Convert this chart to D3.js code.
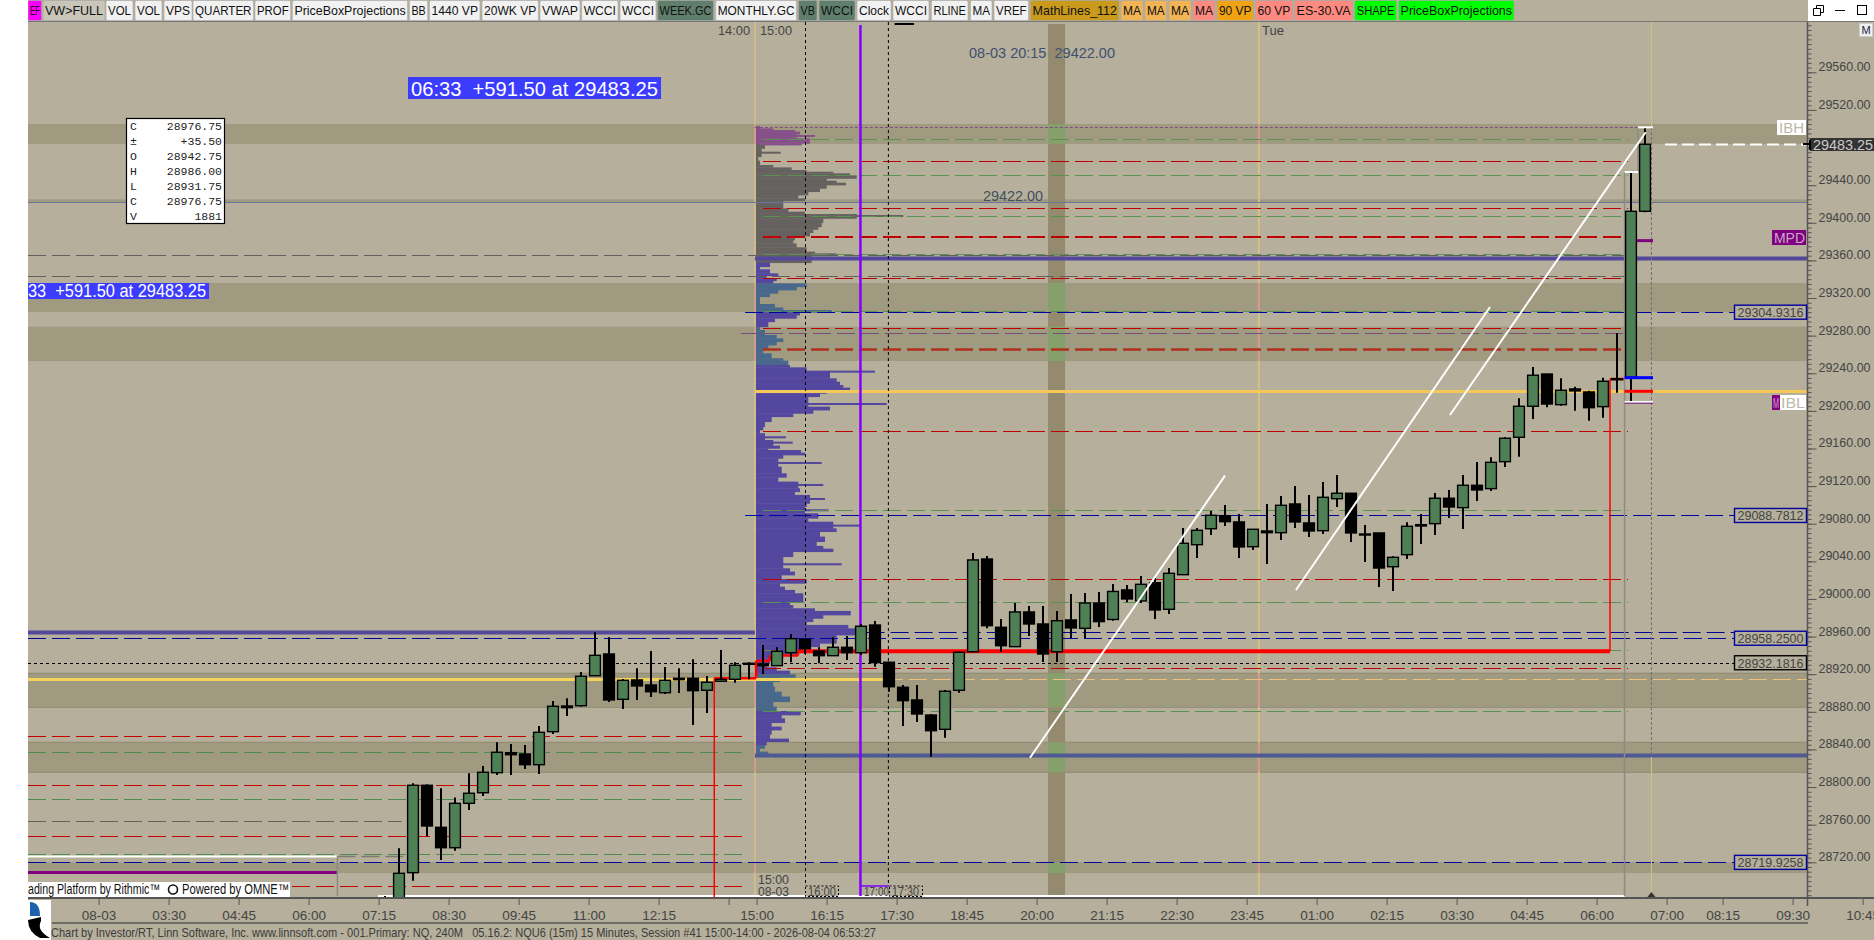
<!DOCTYPE html>
<html><head><meta charset="utf-8">
<style>html,body{margin:0;padding:0;background:#b5af9b;overflow:hidden}svg{display:block;font-family:"Liberation Sans",sans-serif}svg text{white-space:pre}</style>
<script src="https://cdnjs.cloudflare.com/ajax/libs/d3/7.8.5/d3.min.js"></script>
</head><body><svg id="c" width="1874" height="940"></svg>
<script>
// ---------- data ----------
const barOpen=[28678,28675,28709,28801.9,28757.2,28735.5,28782.7,28794,28815.3,28836.6,28835.2,28823.8,28858.9,28886.2,28886.5,28918.4,28941.5,28893.3,28913.9,28908.5,28900.3,28915.7,28915.7,28902.9,28912.5,28914.6,28931.6,
28930.9,28929.1,28942.9,28957.1,28944.7,28939.7,28948.6,28942.9,28972.3,28932.7,28906.1,28892.6,28876.6,28861.4,28902.9,28943.9,29042.5,28969.9,28949.3,28986.2,28973.4,28943.9,28977.7,28968.8,28995.7,28978.2,29009.6,28997.9,29017.3,28989,29025.8,29057.7,29074.7,29088.6,29081.9,29055.6,29072.3,29070.5,29101,29080.8,29072.6,29106.6,29112.4,29069.1,29070.2,29034.3,29047.1,29079,29080.1,29107.1,29097.1,29120.9,29117.3,29146,29171.9,29204.9,29239.2,29206.6,29223.3,29220.1,29204.5,29234.2,29235.7,29412.2];
const barHigh=[28684.2,28735,28804,28803,28798.7,28789,28814.6,28822.4,28847.6,28845.8,28844.7,28864.9,28891.5,28894.4,28922.4,28964.9,28959.3,28914.9,28926.3,28944.7,28927.7,28926.3,28935.9,28918.1,28945.8,28932.7,28932.7,
28951.1,28948.6,28962.8,28957.4,28948.6,28959.3,28960.6,28973.1,28976.6,28933.3,28908.5,28908.5,28877.7,28903.2,28943.9,29048.9,29045.7,28978.7,28995.7,28992.5,28992.5,28987.2,29005.3,29006.4,29007.4,29015.9,29014.9,29024.4,29022.3,29032.9,29075.5,29075.5,29093.6,29099.9,29090.4,29074.4,29101,29109.5,29120.1,29110.6,29124.4,29131.8,29112.7,29078.7,29070.2,29045.4,29081.5,29090.4,29112.7,29115.9,29131.8,29145.7,29150.6,29171.9,29213.4,29246.7,29239.2,29234.6,29225.7,29221.5,29235.3,29282.5,29454,29501.5];
const barLow=[28670,28670,28700.4,28748,28722.5,28732.3,28775.6,28790.5,28812.8,28812.8,28819.2,28813.9,28856.4,28875.6,28885.5,28918,28890.5,28883,28892.6,28895.8,28899,28900,28866,28878.8,28912,28911,28914.6,
28920.2,28929,28932.7,28941.5,28931.6,28939.7,28935.1,28940.4,28928,28901.4,28864.9,28869.2,28832.3,28852.5,28900.3,28943.3,28968.8,28943.9,28948.9,28960.6,28933,28933,28958.5,28958.5,28970.2,28976.9,28996.5,28995.7,28978.7,28984,29025.5,29043.6,29068,29077.6,29043.6,29052.1,29037.2,29062.7,29075.5,29065.9,29069.1,29097.8,29060.6,29039.3,29012.7,29008.5,29042.5,29058.5,29068,29086.1,29074.4,29104.2,29114.8,29140.3,29151.3,29191.4,29203.8,29205.5,29200.2,29189.6,29192.8,29219.3,29209.5,29411.2];
const barClose=[28676,28708.3,28801.9,28758.6,28735.5,28782.7,28793.4,28815.7,28837,28834.4,28823.8,28858.2,28885.9,28884.4,28917.8,28940.1,28892.6,28913.5,28907.5,28901.4,28913.5,28914.2,28902.5,28911.4,28914.6,28929.5,28930.6,
28929.1,28944.4,28957.8,28947.1,28939.7,28948.6,28942.9,28971,28932.3,28906.7,28891.9,28877.7,28859.9,28901.9,28943.3,29041.5,28971.6,28950.3,28986.2,28973.4,28941.5,28976.9,28969.2,28995.7,28975.9,29008,29000,29015.6,28988.3,29027.3,29059.2,29073,29089,29082.2,29055.3,29074.1,29070.5,29099.6,29081.9,29072.3,29108.1,29112.4,29070.2,29068,29032.9,29044.3,29077.3,29077.6,29107.1,29097.8,29120.9,29115.9,29145.3,29170.9,29204.9,29237.9,29207.3,29221.9,29221.2,29203.4,29231.5,29233.2,29412.2,29483.5];

const axisLabels=[[-20,"08-03"],[-15,"03:30"],[-10,"04:45"],[-5,"06:00"],[0,"07:15"],[5,"08:30"],[10,"09:45"],[15,"11:00"],[20,"12:15"],[25,""],[27,"15:00"],[32,"16:15"],[37,"17:30"],[42,"18:45"],[47,"20:00"],[52,"21:15"],[57,"22:30"],[62,"23:45"],[67,"01:00"],[72,"02:15"],[77,"03:30"],[82,"04:45"],[87,"06:00"],[92,"07:00"],[96,"08:15"],[101,"09:30"],[106,"10:45"]];
const priceTicks=d3.range(28720,29561,40);
const minorTicks=d3.range(28680,29611,5);

const toolbarLabels=["EF","VW>FULL","VOL","VOL","VPS","QUARTER","PROF","PriceBoxProjections","BB","1440 VP","20WK VP","VWAP","WCCI","WCCI","WEEK.GC","MONTHLY.GC","VB","WCCI","Clock","WCCI","RLINE","MA","VREF","MathLines_112","MA","MA","MA","MA","90 VP","60 VP","ES-30.VA","SHAPE","PriceBoxProjections"];
const toolbarEdges=[[28,41.5],[43,105],[106,133],[135,162],[164,192],[193,253.5],[255,290.6],[292.4,407.6],[409.4,427.7],[429.5,480],[482,538.4],[540,580],[581.7,618],[620,656],[657.6,713.5],[715.7,796.5],[798.6,817],[819,855],[857,891],[893,929],[931.4,968],[970.5,992],[994,1028.5],[1030.6,1119],[1121,1143],[1145,1166.7],[1169,1191],[1193,1215],[1217,1253.4],[1255.5,1292.4],[1294.6,1352.6],[1354.7,1396.5],[1398.6,1514]];
const toolbarFills=["#ff00ff","#c9c5b8","#f1f1f1","#f1f1f1","#f1f1f1","#f1f1f1","#f1f1f1","#f1f1f1","#f1f1f1","#f1f1f1","#f1f1f1","#f1f1f1","#f1f1f1","#f1f1f1","#5f7f6c","#f1f1f1","#5f7f6c","#5f7f6c","#f1f1f1","#f1f1f1","#f1f1f1","#f1f1f1","#f1f1f1","#c99a1c","#f2b455","#f2b455","#f2b455","#ff8a80","#f0a414","#ff8a80","#ff8a80","#00ff00","#00ff00"];

const bandLevels=[[29505,29483.8],[29336,29305],[29289.5,29253],[28921,28884.8],[28847.6,28815.7],[28720,28708.6]];
const hairBand=[29424.9,29421.6];
const redRight=[29466.2,29415.2,29386,29384.4,29341.3,29287.8,29178.3,29020.9,28926.3];
const redBold=[29265.8];
const greenRight=[29488.6,29450.3,29406.7,29366.3,29305.7,29094.1,28996.3,28945.4,28880.6];
const grayAll=[29365.4,29343.1];
const purpleDash=[29282.5];
const redLeft=[28854,28801.9,28747.7,28694.5];
const greenLeft=[28837,28787,28728.5];
const grayLeft=[28763.6];
const pivotLevels=[29304.9316,29088.7812,28958.25,28932.1816,28719.9258];
const wideRight=[29362.9,28834.1];
const wideLeft=[28964.9];
const yellowRight=[29220.8];
const yellowLeft=[28915.2];
const redStepBar=[23.52,23.52,26.5,26.5,27.5,27.5,29.5,29.5,87.5,87.5,88.57];
const redStepPrice=[28683,28915.7,28915.7,28934.2,28934.2,28939.9,28939.9,28944.5,28944.5,29233.9,29233.9];
const trendBar=[[46.07,60],[76.07,90.05],[65.07,78.93]];
const trendPrice=[[28831.2,29131.1],[29195.6,29496.2],[29009.5,29310.5]];

// volume profile: level, volume for the row starting there
const vpLevel=[29502.9,29500.4,29498.6,29496.9,29494.4,29489.8,29484.5,29482.7,29479.1,29470.3,29466,29461.4,29458.9,29456.1,29454.3,29452.6,29450.4,29447.2,29444.8,29442.6,29440.2,29436.6,29433.1,29429.5,29426,29423.5,29415.4,29411.8,29409.3,29404.7,29400.1,29395.8,29393,29389.5,29385.9,29381.7,29378.1,29373.9,29369.3,29367.5,29365,29357.6,29353.3,29350.5,29346.2,29343.7,29340.9,29338.4,29335.6,29332,29328.5,29325,29321.4,29313.6,29310,29307.2,29304.8,29301.9,29298.4,29294.8,29289.5,29286,29280.7,29277.1,29273.6,29270,29266.1,29261.2,29255.9,29253.4,29248.8,29246.3,29241.7,29234.6,29231,29227.5,29224.7,29221.5,29218.6,29215.1,29204.5,29200.9,29197.4,29193.8,29188.5,29183.2,29179.7,29176.2,29169,29163,29160.2,29158.4,29155.6,29153.1,29149.6,29140.7,29133.6,29129.4,29124.8,29117.7,29114.1,29110.6,29101.7,29098.2,29091.1,29085.8,29082.2,29075.1,29071.6,29066.3,29061,29056.4,29053.5,29050.3,29045,29032.6,29029.1,29025.5,29021.3,29016.7,29013.1,29009.6,29006,28996.5,28993.6,28990.1,28986.2,28983,28979.4,28975.9,28972.4,28968.8,28965.3,28961.7,28952.9,28949.3,28945.8,28941.5,28936.9,28931.6,28927.4,28923.8,28919.9,28916.7,28912.1,28906.8,28901.5,28896.2,28890.8,28885.5,28880.9,28876.7,28873.1,28868.5,28864.3,28860.7,28856.1,28851.5,28848.3,28844.8,28841.2,28837.7,28834.1];
const vpVolume=[40,173,390,440,407,540,457,90,57,23,40,173,357,507,773,940,1007,707,807,900,707,640,523,423,490,273,323,490,1007,673,657,623,573,540,390,373,407,507,590,807,557,140,40,140,223,107,207,173,507,407,223,140,40,190,273,757,440,407,190,123,40,90,207,273,207,123,73,157,273,323,340,507,740,807,840,873,940,707,640,523,740,573,373,157,90,73,40,90,173,240,123,450,490,273,223,257,307,223,423,440,390,540,507,490,623,523,773,807,640,690,607,673,773,373,273,340,390,257,507,240,290,390,473,340,373,590,947,673,573,507,923,1040,1107,807,640,507,423,273,140,107,207,340,397,240,173,190,257,340,173,207,447,257,290,157,257,157,140,330,107,90,40,123,0];
const vpSpikeLevel=[29492.3,29474.5,29407.2,29241.7,29207.3,29171.9,29166.2,29144.6,29121.2,29106.3,29094.3,29078,29036.9,28986.2];
const vpSpikeVolume=[590,247,1473,1190,1307,300,367,657,673,690,723,1040,857,947];

// ---------- scales ----------
const svg=d3.select("#c");
const y=d3.scaleLinear().domain([29560,28720]).range([72.3,862.3]);
const xBar=d3.scaleLinear().domain([0,1]).range([385,399]);
const xTick=d3.scaleLinear().domain([0,1]).range([378.6,392.6]);
const vpX=d3.scaleLinear().domain([0,1000]).range([756,856]);
const W=1874;
const chartLeft=-25.5, leftEnd=25.79, sessStart=27, sessEnd=88.79, sessHead=26.42, labelEdge=96.36, axisEdge=101.57;
const nowBar=90.46, barA=88.54, barB=89.5, markEnd=90.57;
const BG="#b5af9b",BAND="#a09a80",VBAND="#948b6e",OVER="#86a06c";

const g=svg.append("g");
g.append("rect").attr("width",W).attr("height",940).attr("fill",BG);

// bands
const plot=g.append("g");
plot.selectAll(".band").data(bandLevels).join("rect")
 .attr("x",xBar(chartLeft)).attr("width",xBar(axisEdge)-xBar(chartLeft))
 .attr("y",d=>y(d[0])).attr("height",d=>y(d[1])-y(d[0])).attr("fill",BAND);
plot.append("rect").attr("x",xBar(chartLeft)).attr("width",xBar(axisEdge)-xBar(chartLeft))
 .attr("y",y(hairBand[0])).attr("height",y(hairBand[1])-y(hairBand[0])).attr("fill",BAND);
[3,4].forEach(k=>bandLevels[k].forEach(p=>plot.append("line").attr("x1",xBar(chartLeft)).attr("x2",xBar(axisEdge)).attr("y1",y(p)).attr("y2",y(p)).attr("stroke","#8f8a72").attr("stroke-width",1)));
// vertical shaded column
plot.append("rect").attr("x",xBar(47.36)).attr("width",17).attr("y",24).attr("height",872).attr("fill",VBAND);
plot.selectAll(".ov").data(bandLevels).join("rect").attr("x",xBar(47.36)).attr("width",17)
 .attr("y",d=>y(d[0])).attr("height",d=>y(d[1])-y(d[0])).attr("fill",OVER);

// session verticals
[sessHead,62.42].forEach(b=>{
 plot.append("line").attr("x1",xBar(b)).attr("x2",xBar(b)).attr("y1",22).attr("y2",896).attr("stroke","#d3c284").attr("stroke-width",b===sessHead?1.5:2);
 plot.selectAll(null).data(bandLevels).join("line").attr("x1",xBar(b)).attr("x2",xBar(b)).attr("y1",d=>y(d[0])).attr("y2",d=>y(d[1])).attr("stroke","#d8968f").attr("stroke-width",b===sessHead?1.5:2);
});

// profile
const inBand=p=>bandLevels.slice(1,5).some(b=>p<=b[0]&&p>=b[1]);
const vpColor=p=>p>=bandLevels[0][1]?"#86508a":(p<=29483&&p>=29365?"#666260":(inBand(p)?"#48698c":"#54479f"));
const rows=vpLevel.slice(0,-1).map((p,i)=>({p,v:vpVolume[i],next:vpLevel[i+1]}));
const vp=plot.append("g");
vp.selectAll("rect").data(rows).join("rect").attr("x",vpX(0)).attr("y",d=>y(d.p))
 .attr("width",d=>vpX(d.v)-vpX(0)).attr("height",d=>y(d.next)-y(d.p)+0.4).attr("fill",d=>vpColor(d.p));
vp.selectAll(".sp").data(vpSpikeLevel).join("rect").attr("x",vpX(0)).attr("y",d=>y(d)-1)
 .attr("width",(d,i)=>vpX(vpSpikeVolume[i])-vpX(0)).attr("height",2).attr("fill",d=>vpColor(d));

// dashed levels
function levels(data,b0,b1,color,width,dash){
 plot.selectAll(null).data(data).join("line").attr("x1",xBar(b0)).attr("x2",xBar(b1))
  .attr("y1",d=>Math.round(y(d))+.5).attr("y2",d=>Math.round(y(d))+.5).attr("stroke",color).attr("stroke-width",width).attr("stroke-dasharray",dash||null);
}
const D="18 6";
levels([hairBand[1]],chartLeft,axisEdge,"#6a76a0",1);
levels(greenRight,sessStart,sessEnd,"#5b9150",1,D);
levels(redRight,sessStart,sessEnd,"#bf0000",1,D);
levels(redBold,sessStart,sessEnd,"#b03020",2.5,D);
levels(grayAll,chartLeft,barA,"#62605c",1,D);
levels(purpleDash,sessHead-1,barA,"#70507a",1,D);
levels(redLeft,chartLeft,leftEnd,"#c80000",1,D);
levels(greenLeft,chartLeft,leftEnd,"#4f8a4f",1,D);
levels(grayLeft,chartLeft,1.2,"#62605c",1,D);
levels([28964.4],34.4,labelEdge,"#000090",1,D);
levels([29304.9316,29088.7812],sessHead-0.7,labelEdge,"#0000a0",1,D);
levels([28958.25,28719.9258],chartLeft,labelEdge,"#0000a0",1,D);
levels([28932.1816],chartLeft,labelEdge,"#000",1,"3 3");
levels([28915.2],35.7,axisEdge,"#f0c080",1.2,D);
levels([29502.2],sessHead,barB,"#7e4f86",1,"3 2");
levels([28832.2],sessHead,90.4,"#8a8a7a",1,"3 3");
// wide lines
levels([wideRight[0]],sessHead,axisEdge,"#54489c",4);
levels([wideRight[1]],sessHead,axisEdge,"#4f5a94",4);
levels(wideLeft,chartLeft,sessHead,"#54489c",4);
levels(yellowRight,sessHead,axisEdge,"#f4c95a",3);
levels(yellowLeft,chartLeft,35.7,"#f4d35a",3);
// left pre-session marks
levels([28726.7],chartLeft,-3.4,"#fff",2);
levels([28726.2],-3.4,1.95,"#7d7a70",1.5,D);
levels([28709.4],chartLeft,-3.4,"#800080",3);
plot.append("line").attr("x1",xBar(-3.4)).attr("x2",xBar(-3.4)).attr("y1",y(28726.7)).attr("y2",896).attr("stroke","#8f8a80").attr("stroke-width",1.5);
plot.append("line").attr("x1",xBar(-0.5)).attr("x2",xBar(barA)).attr("y1",896).attr("y2",896).attr("stroke","#fff").attr("stroke-width",2);

// red step line
const segs=d3.pairs(redStepBar.map((b,i)=>[b,redStepPrice[i]]));
plot.selectAll(null).data(segs).join("line").attr("x1",d=>xBar(d[0][0])).attr("x2",d=>xBar(d[1][0]))
 .attr("y1",d=>y(d[0][1])).attr("y2",d=>y(d[1][1])).attr("stroke","#ff0000")
 .attr("stroke-width",(d,i)=>i===7?4:(i===0||i===8?1.5:2.5));

// verticals
plot.selectAll(null).data([30,35.92]).join("line").attr("x1",d=>xBar(d)+.5).attr("x2",d=>xBar(d)+.5).attr("y1",22).attr("y2",886).attr("stroke","#000").attr("stroke-dasharray","3 3");
plot.append("line").attr("x1",xBar(33.96)).attr("x2",xBar(33.96)).attr("y1",25).attr("y2",896).attr("stroke","#8000ff").attr("stroke-width",2.5);
// latest-bar verticals
plot.append("line").attr("x1",xBar(barA)).attr("x2",xBar(barA)).attr("y1",y(29454)).attr("y2",896).attr("stroke","#8f8a80").attr("stroke-width",1.5);
plot.append("line").attr("x1",xBar(barB)).attr("x2",xBar(barB)).attr("y1",y(29501.5)).attr("y2",y(29454)).attr("stroke","#8f8a80").attr("stroke-width",1.5);
plot.append("line").attr("x1",xBar(nowBar)).attr("x2",xBar(nowBar)).attr("y1",22).attr("y2",127).attr("stroke","#d3c284");
plot.append("line").attr("x1",xBar(nowBar)).attr("x2",xBar(nowBar)).attr("y1",127).attr("y2",755).attr("stroke","#7a6a70").attr("stroke-dasharray","3 2");
plot.append("line").attr("x1",xBar(nowBar)).attr("x2",xBar(nowBar)).attr("y1",757).attr("y2",893).attr("stroke","#d3c284");
plot.append("path").attr("d",`M${xBar(nowBar)-4},897 L${xBar(nowBar)+4},897 L${xBar(nowBar)},892 Z`).attr("fill","#333");

// candles
svg.append("clipPath").attr("id","pl").append("rect").attr("x",28).attr("y",22).attr("width",1780).attr("height",875);
const bars=barOpen.map((o,i)=>({i,o,h:barHigh[i],l:barLow[i],c:barClose[i]}));
const cd=g.append("g").attr("clip-path","url(#pl)");
cd.selectAll(".w").data(bars).join("line").attr("x1",d=>xBar(d.i)).attr("x2",d=>xBar(d.i)).attr("y1",d=>y(d.h)).attr("y2",d=>y(d.l)).attr("stroke","#000").attr("stroke-width",2);
cd.selectAll(".b").data(bars).join("rect").attr("x",d=>xBar(d.i)-5.4).attr("width",10.8)
 .attr("y",d=>y(Math.max(d.o,d.c))).attr("height",d=>Math.max(1,Math.abs(y(d.o)-y(d.c))))
 .attr("fill",d=>d.c>=d.o?"#4f7f55":"#000").attr("stroke","#000").attr("stroke-width",1.4);

// last-bar markers
function mark(p,b0,b1,c,w){cd.append("line").attr("x1",xBar(b0)).attr("x2",xBar(b1)).attr("y1",y(p)).attr("y2",y(p)).attr("stroke",c).attr("stroke-width",w);}
mark(29501.5,barB,markEnd,"#fff",2);
mark(29454,barA,barB,"#fff",2);
mark(29381,89.43,markEnd,"#800080",3);
mark(29235.3,barA,markEnd,"#0000ff",3);
mark(29220.8,barA,markEnd,"#ff0000",3);
mark(29209.5,barA,markEnd,"#fff",2);
mark(29208.2,barA,markEnd,"#70107a",1);
// trend lines
trendBar.forEach((b,k)=>cd.append("line").attr("x1",xBar(b[0])).attr("x2",xBar(b[1])).attr("y1",y(trendPrice[k][0])).attr("y2",y(trendPrice[k][1])).attr("stroke","#fff").attr("stroke-width",2));
// last-price dashed
g.append("line").attr("x1",xBar(91.43)).attr("x2",xBar(axisEdge)).attr("y1",y(29483.25)).attr("y2",y(29483.25)).attr("stroke","#fff").attr("stroke-width",2).attr("stroke-dasharray","12 5");

// value axis
const yAxisMinor=d3.axisRight(y).tickValues(minorTicks).tickSize(4).tickFormat("");
const yAxisMajor=d3.axisRight(y).tickValues(priceTicks).tickSize(9).tickFormat(d3.format(".2f"));
const ax=g.append("g").attr("transform","translate(1807.5,0)");
ax.append("g").call(yAxisMinor).call(s=>s.selectAll(".tick line").attr("stroke","#555").attr("opacity",d=>y(d)<24||y(d)>897?0:1)).call(s=>s.select(".domain").remove());
ax.append("g").call(yAxisMajor).call(s=>{s.select(".domain").remove();
 s.selectAll(".tick line").attr("stroke","#555");
 s.selectAll(".tick text").attr("x",11).attr("dy",-1.5).attr("text-anchor","start").attr("fill","#444").attr("font-size",13.5).attr("font-family","Liberation Sans").attr("textLength",52).attr("lengthAdjust","spacingAndGlyphs");});
g.append("line").attr("x1",1807.5).attr("x2",1807.5).attr("y1",22).attr("y2",906).attr("stroke","#555").attr("stroke-width",1.5);

// time axis
const lab=new Map(axisLabels);
const xAxis=d3.axisBottom(xTick).tickValues(axisLabels.map(d=>d[0])).tickSize(7).tickFormat(d=>lab.get(d));
const xa=g.append("g").attr("transform","translate(0,898)").call(xAxis);
xa.select(".domain").remove();
xa.selectAll(".tick line").attr("stroke","#555");
xa.selectAll(".tick text").attr("y",12).attr("dy",".71em").attr("fill","#444").attr("font-size",13.5).attr("font-family","Liberation Sans");
g.append("line").attr("x1",28).attr("x2",W).attr("y1",898).attr("y2",898).attr("stroke","#555").attr("stroke-width",2);
g.append("line").attr("x1",52).attr("x2",1808).attr("y1",923).attr("y2",923).attr("stroke","#555").attr("stroke-width",1.5);

function txt(x,yy,s,o={}){return g.append("text").attr("x",x).attr("y",yy).text(s).attr("font-size",o.size||13).attr("fill",o.fill||"#444").attr("text-anchor",o.anchor||"start").attr("font-family",o.font||"Liberation Sans").attr("textLength",o.len||null).attr("lengthAdjust",o.len?"spacingAndGlyphs":null).attr("font-weight",o.weight||null);}

// footer
txt(51,937,"Chart by Investor/RT, Linn Software, Inc. www.linnsoft.com - 001.Primary: NQ, 240M   05.16.2: NQU6 (15m) 15 Minutes, Session #41 15:00-14:00 - 2026-08-04 06:53:27",{size:13,len:825,fill:"#3c3c3c"});

// date/time captions
txt(718,35,"14:00",{len:32});txt(760,35,"15:00",{len:32});txt(1262,35,"Tue",{len:22});
txt(969,58,"08-03 20:15  29422.00",{size:14,len:146,fill:"#3f5070"});
txt(983,201,"29422.00",{size:14,len:60,fill:"#3f5060"});
txt(758,884,"15:00",{len:31,size:12.5});txt(758,896,"08-03",{len:31,size:12});
g.append("rect").attr("x",805.5).attr("y",886).attr("width",33).attr("height",10.5).attr("fill",BG).attr("stroke","#000").attr("stroke-dasharray","2 2");
txt(808,896,"16:00",{len:28,size:12});
g.append("rect").attr("x",889.5).attr("y",886).attr("width",33).attr("height",10.5).attr("fill",BG).attr("stroke","#000").attr("stroke-dasharray","2 2");
g.append("line").attr("x1",861).attr("x2",889).attr("y1",886).attr("y2",886).attr("stroke","#8000ff").attr("stroke-width",1.5);
txt(864,896,"17:00",{len:25,size:12});txt(892,896,"17:30",{len:27,size:12});

// blue callouts
g.append("rect").attr("x",408).attr("y",77).attr("width",253).attr("height",22).attr("fill","#3b3cff");
txt(411,95.5,"06:33  +591.50 at 29483.25",{fill:"#fff",size:21,len:247});
g.append("rect").attr("x",28).attr("y",283).attr("width",181).attr("height",16).attr("fill","#3b3cff");
txt(28,297,"33  +591.50 at 29483.25",{fill:"#fff",size:17.5,len:178});

// OHLC box
g.append("rect").attr("x",126.5).attr("y",118.5).attr("width",98).attr("height",105).attr("fill","#fff").attr("stroke","#000").attr("stroke-width",1.2);
const ohlcKeys=["C","±","O","H","L","C","V"];
const ohlcVals=["28976.75","+35.50","28942.75","28986.00","28931.75","28976.75","1881"];
ohlcKeys.forEach((k,i)=>{txt(130,130+15*i,k,{font:"Liberation Mono",size:11.5,fill:"#222"});txt(222,130+15*i,ohlcVals[i],{font:"Liberation Mono",size:11.5,fill:"#222",anchor:"end"});});

// Rithmic strip
g.append("rect").attr("x",28).attr("y",882).attr("width",262).attr("height",15).attr("fill","#fff");
txt(28,894,"ading Platform by Rithmic™",{size:14,fill:"#111",len:132});
g.append("circle").attr("cx",173).attr("cy",889.5).attr("r",4.5).attr("fill","none").attr("stroke","#111").attr("stroke-width",1.6);
txt(182,894,"Powered by OMNE™",{size:14,fill:"#111",len:107});

// pivot labels
const pivotColor=d=>d===28932.1816?"#000":"#0000a0";
g.selectAll(".pb").data(pivotLevels).join("rect").attr("x",1734.5).attr("y",d=>y(d)-7).attr("width",72).attr("height",14).attr("fill",BG).attr("stroke",pivotColor).attr("stroke-width",1.4);
pivotLevels.forEach(p=>txt(1770.5,y(p)+5,d3.format(".4f")(p),{anchor:"middle",size:13.5,len:66}));

// named level flags
g.append("rect").attr("x",1777).attr("y",120).attr("width",29).attr("height",15).attr("fill","#fff");
txt(1779,132.5,"IBH",{size:14,fill:"#bdb9aa",len:25});
g.append("rect").attr("x",1772).attr("y",230).attr("width",34).attr("height",15).attr("fill","#800080");
txt(1774,242.5,"MPD",{size:14,fill:"#c8a8c8",len:31});
g.append("rect").attr("x",1772).attr("y",395).attr("width",8).attr("height",15).attr("fill","#800080");
txt(1773,407.5,"M",{size:14,fill:"#c8a8c8",len:6});
g.append("rect").attr("x",1780).attr("y",395).attr("width",26).attr("height",15).attr("fill","#fff");
txt(1781,407.5,"IBL",{size:14,fill:"#bdb9aa",len:24});
// price flag
g.append("rect").attr("x",1810).attr("y",138).attr("width",64).attr("height",13).attr("fill","#333");
txt(1813,149.5,"29483.25",{size:14,fill:"#c9c9c9",len:60});
g.append("line").attr("x1",1803).attr("x2",1811).attr("y1",144).attr("y2",144).attr("stroke","#000").attr("stroke-width",2);
g.append("line").attr("x1",1810).attr("x2",1810).attr("y1",140).attr("y2",150).attr("stroke","#000").attr("stroke-width",2);

// toolbar
g.append("rect").attr("width",W).attr("height",21).attr("fill",BG);
g.append("line").attr("x1",0).attr("x2",W).attr("y1",21.5).attr("y2",21.5).attr("stroke","#777");
const tb=g.append("g");
tb.selectAll("rect").data(toolbarEdges).join("rect").attr("x",d=>d[0]).attr("y",0.5).attr("width",d=>d[1]-d[0]).attr("height",20).attr("rx",1.5).attr("fill",(d,i)=>toolbarFills[i]).attr("stroke","#a8a8a8").attr("stroke-width",0.6);
tb.selectAll("text").data(toolbarLabels).join("text").attr("x",(d,i)=>(toolbarEdges[i][0]+toolbarEdges[i][1])/2).attr("y",15).attr("text-anchor","middle")
 .attr("font-size",13).attr("fill","#111").attr("textLength",(d,i)=>toolbarEdges[i][1]-toolbarEdges[i][0]-4).attr("lengthAdjust","spacingAndGlyphs").text(d=>d);
g.append("rect").attr("x",894.6).attr("y",23).attr("width",19.4).attr("height",2).attr("fill","#000");

// window controls
g.append("rect").attr("x",1808).attr("y",0).attr("width",66).attr("height",21).attr("fill","#fff");
g.append("path").attr("d","M1813.5,8.5h7v7h-7z M1816.5,8.5v-3h7v7h-3").attr("fill","none").attr("stroke","#000").attr("stroke-width",1);
g.append("line").attr("x1",1835).attr("x2",1845).attr("y1",10.5).attr("y2",10.5).attr("stroke","#000");
g.append("rect").attr("x",1857.5).attr("y",5.5).attr("width",9).attr("height",9).attr("fill","none").attr("stroke","#000");
g.append("rect").attr("x",1859.5).attr("y",23.5).attr("width",13).attr("height",13).attr("fill","#f0f0f0").attr("stroke","#ccc");
txt(1866,34,"M",{anchor:"middle",size:11,fill:"#224"});

// left strip and logo
g.append("rect").attr("width",28).attr("height",940).attr("fill","#fff");
g.append("rect").attr("x",28).attr("y",900).attr("width",23).attr("height",40).attr("fill","#fff");
g.append("path").attr("d","M30,902 Q40,902 40,916 L30,916 Z").attr("fill","#1c63ad");
g.append("path").attr("d","M28,920 L41,917 L41,921 Q36,930 50,938 L40,938 Q28,932 28,920 Z").attr("fill","#000");
</script></body></html>
